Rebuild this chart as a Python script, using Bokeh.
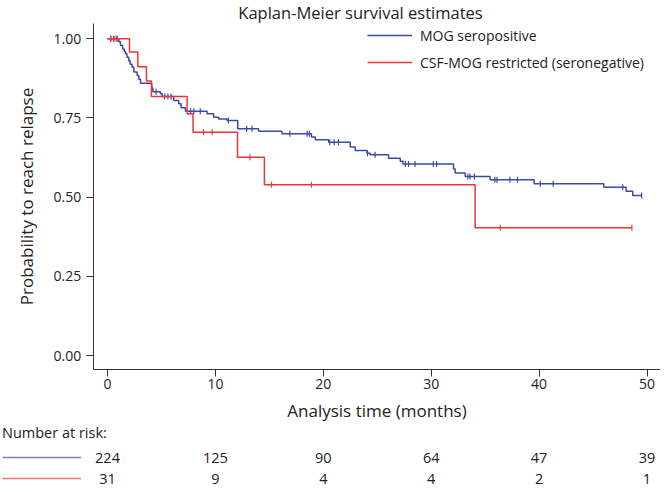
import numpy as np
from bokeh.plotting import figure
from bokeh.models import Range1d, FixedTicker, Legend, LegendItem, Label, NumeralTickFormatter
from bokeh.embed import file_html
from bokeh.resources import INLINE
from bokeh.core.properties import value

# ---------------- data ----------------
blue_t = [0, 1.05, 1.2, 1.4, 1.55, 1.67, 1.8, 1.97, 2.1, 2.28,
          2.44, 2.75, 2.9, 3.06, 4.1, 4.2, 4.9, 5.06, 6.14, 6.6,
          6.82, 7.22, 9.23, 9.84, 10.3, 11.08, 12.07, 14.0, 16.17, 18.9,
          19.26, 20.5, 22.5, 22.96, 24.05, 24.35, 26.05, 27.13, 27.38, 32.07,
          32.22, 33.15, 35.46, 39.54, 46.0, 48.06, 48.68]
blue_s = [1.0, 0.991, 0.979, 0.968, 0.960, 0.953, 0.942, 0.931, 0.920, 0.910,
          0.895, 0.884, 0.872, 0.860, 0.845, 0.833, 0.827, 0.818, 0.805, 0.795,
          0.782, 0.771, 0.763, 0.752, 0.747, 0.742, 0.716, 0.708, 0.700, 0.690,
          0.681, 0.673, 0.658, 0.647, 0.639, 0.634, 0.623, 0.613, 0.605, 0.589,
          0.576, 0.565, 0.555, 0.542, 0.531, 0.519, 0.505]
blue_end = 49.5
blue_cens = [0.3, 0.6, 0.9, 4.5, 5.3, 5.6, 5.9, 7.7, 8.0, 8.6, 11.2, 12.9, 13.4,
             16.9, 18.5, 18.7, 20.6, 21.0, 21.4, 24.1, 24.8, 27.6, 27.9, 28.5,
             30.2, 30.5, 33.4, 33.6, 34.0, 35.9, 36.1, 37.3, 38.0, 40.1, 41.3,
             47.75, 49.5]

red_t = [0, 2.04, 2.81, 3.61, 4.07, 7.38, 7.93, 12.05, 14.54, 34.07]
red_s = [1.0, 0.958, 0.912, 0.867, 0.818, 0.763, 0.705, 0.626, 0.539, 0.403]
red_end = 48.6
red_cens = [0.3, 0.55, 0.8, 8.9, 9.7, 13.2, 15.2, 18.9, 36.4, 48.6]

series_names = ["MOG seropositive", "CSF-MOG restricted (seronegative)"]
risk_times = [0, 10, 20, 30, 40, 50]
risk_blue = [224, 125, 90, 64, 47, 39]
risk_red = [31, 9, 4, 4, 2, 1]
x_ticks = [0, 10, 20, 30, 40, 50]
y_ticks = [0, 0.25, 0.5, 0.75, 1.0]

# ---------------- style / layout ----------------
BLUE = "#3B4BA6"
RED = "#F03535"
TXT = "#222222"
AX = "#333333"
FONT = "Open Sans"
W, H = 660, 488
X0, PX_T = 107.0, 10.79  # pixel x of t=0, px per month
S0, PX_S = 355.0, 316.7  # pixel y of S=0, px per unit


def xt(px):
    return (px - X0) / PX_T


def ys(py):
    return (S0 - py) / PX_S


p = figure(width=W, height=H, output_backend="svg", toolbar_location=None,
           x_range=Range1d(xt(0), xt(W)),
           y_range=Range1d(ys(H), ys(0)),
           min_border=0, outline_line_color=None)
p.xgrid.visible = False
p.ygrid.visible = False

for ax in (p.xaxis[0], p.yaxis[0]):
    ax.major_tick_out = 7
    ax.major_tick_in = 0
    ax.minor_tick_out = 0
    ax.minor_tick_in = 0
    ax.axis_line_color = AX
    ax.major_tick_line_color = AX
    ax.major_label_text_font = FONT
    ax.major_label_text_font_size = "14px"
    ax.major_label_text_color = TXT
    ax.axis_label_text_font = FONT
    ax.axis_label_text_font_size = "17px"
    ax.axis_label_text_font_style = "normal"
    ax.axis_label_text_color = TXT

p.xaxis.fixed_location = ys(369)
p.xaxis.ticker = FixedTicker(ticks=x_ticks)
p.xaxis.bounds = (xt(92.7), xt(W))
p.xaxis.axis_label = "Analysis time (months)"
p.xaxis.major_label_standoff = 2
p.xaxis.axis_label_standoff = 7

p.yaxis.fixed_location = xt(92.7)
p.yaxis.ticker = FixedTicker(ticks=y_ticks)
p.yaxis.formatter = NumeralTickFormatter(format="0.00")
p.yaxis.bounds = (ys(369), ys(23))
p.yaxis.axis_label = "Probability to reach relapse"
p.yaxis.major_label_standoff = 5
p.yaxis.axis_label_standoff = 13


def km(ts, ss, end, cens, color):
    xs = list(ts) + [end]
    yv = list(ss) + [ss[-1]]
    r = p.step(xs, yv, mode="after", line_color=color, line_width=1.5)
    idx = np.searchsorted(np.array(ts), np.array(cens), side="right") - 1
    cs = np.array(ss)[idx]
    p.scatter(cens, cs, marker="dash", angle=np.pi / 2, size=6,
              line_color=color, line_width=1.2)
    return r


rb = km(blue_t, blue_s, blue_end, blue_cens, BLUE)
rr = km(red_t, red_s, red_end, red_cens, RED)

leg = Legend(items=[LegendItem(label=series_names[0], renderers=[rb]),
                    LegendItem(label=series_names[1], renderers=[rr])],
             location=(367, 416), margin=0, padding=0, spacing=7,
             glyph_width=45, glyph_height=20, label_height=20, label_standoff=8,
             label_text_font=FONT, label_text_font_size="14px",
             label_text_color=TXT, border_line_color=None,
             background_fill_alpha=0)
p.add_layout(leg)

p.add_layout(Label(x=xt(360), y=ys(12), text="Kaplan-Meier survival estimates",
                   text_align="center", text_baseline="middle", text_font=FONT,
                   text_font_size="16.5px", text_color=TXT))

# ---------------- number at risk table ----------------
ROW_PY = [457, 478]
keys = []
for row, vals, color in zip(ROW_PY, (risk_blue, risk_red), (BLUE, RED)):
    yrow = [ys(row)] * len(risk_times)
    p.text(x=risk_times, y=yrow, text=[str(v) for v in vals],
           text_align="center", text_baseline="middle", text_font=value(FONT),
           text_font_size=value("14.5px"), text_color=TXT)
    keys.append(p.line(x=risk_times, y=yrow, line_color=color,
                       line_width=1.5, line_alpha=0.7, visible=False))

leg2 = Legend(items=[LegendItem(label=" ", renderers=[keys[0]]),
                     LegendItem(label=" ", renderers=[keys[1]])],
              title="Number at risk:", location=(2, 0), margin=0, padding=0,
              spacing=1, glyph_width=79, glyph_height=20, label_height=20,
              label_standoff=0, title_standoff=5,
              title_text_font=FONT, title_text_font_size="14.5px",
              title_text_font_style="normal", title_text_color=TXT,
              label_text_font_size="14px", border_line_color=None,
              background_fill_alpha=0)
p.add_layout(leg2)

open("out.html", "w").write(file_html(p, INLINE))
